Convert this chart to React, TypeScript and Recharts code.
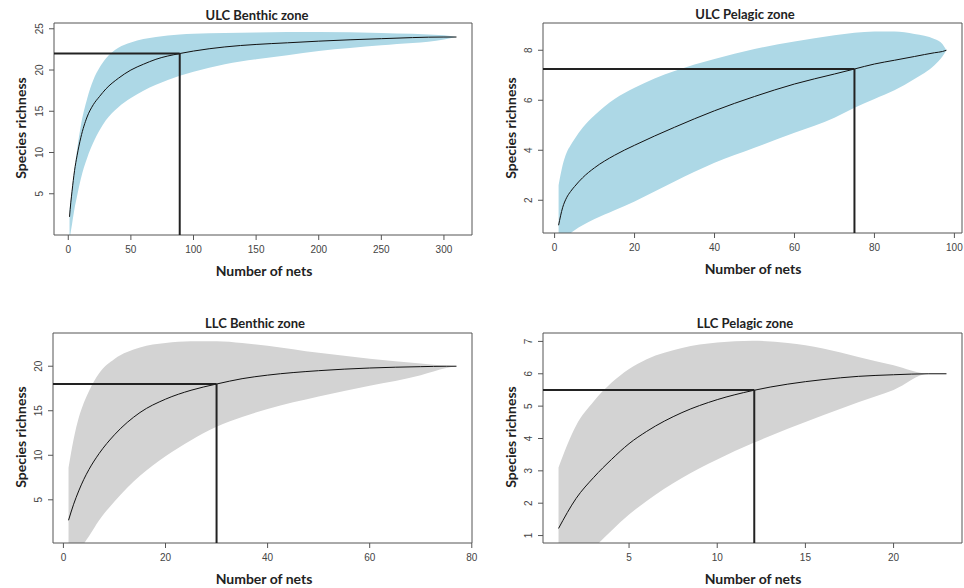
import { ComposedChart, Area, Line, XAxis, YAxis, ReferenceLine, ReferenceArea } from 'recharts';

// ULC Benthic zone
const ulcBenthicNets = [1, 2, 3, 5, 7, 10, 15, 20, 25, 30, 40, 50, 60, 70, 89, 100, 125, 150, 175, 200, 250, 300, 310];
const ulcBenthicMean = [2.2, 3.9, 5.3, 7.8, 9.6, 11.8, 14.3, 15.8, 16.8, 17.7, 19.0, 20.0, 20.7, 21.3, 22, 22.3, 22.8, 23.1, 23.3, 23.5, 23.8, 24, 24];
const ulcBenthicLower = [-0.5, 0.4, 1.3, 3.2, 4.7, 6.8, 9.3, 11.2, 12.7, 13.9, 15.5, 16.6, 17.5, 18.2, 19.3, 19.8, 20.7, 21.3, 21.8, 22.3, 23.0, 23.7, 24];
const ulcBenthicUpper = [3, 4.3, 5.6, 8.1, 10.3, 13.2, 16.5, 18.8, 20.3, 21.4, 22.7, 23.35, 23.75, 24.0, 24.3, 24.4, 24.5, 24.55, 24.6, 24.6, 24.5, 24.2, 24];

// ULC Pelagic zone
const ulcPelagicNets = [1, 2, 3, 4, 5, 7, 10, 15, 20, 25, 30, 40, 50, 60, 70, 75, 80, 85, 90, 95, 97, 98];
const ulcPelagicMean = [1.0, 1.7, 2.1, 2.35, 2.55, 2.9, 3.3, 3.8, 4.2, 4.57, 4.92, 5.58, 6.15, 6.65, 7.05, 7.25, 7.45, 7.6, 7.75, 7.9, 7.95, 8.0];
const ulcPelagicLower = [0.2, 0.35, 0.5, 0.68, 0.8, 1.0, 1.25, 1.6, 1.95, 2.35, 2.75, 3.5, 4.1, 4.7, 5.3, 5.7, 6.05, 6.4, 6.85, 7.4, 7.75, 8.0];
const ulcPelagicUpper = [2.6, 3.4, 3.9, 4.2, 4.45, 4.9, 5.4, 6.05, 6.5, 6.87, 7.17, 7.65, 8.05, 8.35, 8.6, 8.7, 8.75, 8.75, 8.65, 8.45, 8.25, 8.0];

// LLC Benthic zone
const llcBenthicNets = [1, 2, 3, 4, 5, 7, 10, 15, 20, 25, 30, 35, 40, 50, 60, 70, 75, 77];
const llcBenthicMean = [2.7, 4.5, 6.0, 7.3, 8.4, 10.2, 12.3, 14.8, 16.3, 17.3, 18.0, 18.6, 19.0, 19.5, 19.8, 19.95, 20, 20];
const llcBenthicLower = [-3, -2, -1, 0.05, 0.9, 2.7, 4.8, 7.7, 9.9, 11.7, 13.2, 14.3, 15.2, 16.6, 17.8, 19.0, 19.8, 20];
const llcBenthicUpper = [8.6, 11.8, 14.2, 15.9, 17.2, 19.2, 20.8, 22.1, 22.6, 22.8, 22.8, 22.6, 22.3, 21.5, 20.85, 20.3, 20.05, 20];

// LLC Pelagic zone
const llcPelagicNets = [1, 2, 3, 4, 5, 6, 8, 10, 12, 14, 16, 18, 20, 22, 23];
const llcPelagicMean = [1.22, 2.15, 2.8, 3.35, 3.84, 4.22, 4.8, 5.2, 5.48, 5.68, 5.82, 5.92, 5.97, 6, 6];
const llcPelagicLower = [-0.9, -0.1, 0.6, 1.15, 1.65, 2.07, 2.78, 3.35, 3.85, 4.3, 4.72, 5.12, 5.5, 6.0, 6.0];
const llcPelagicUpper = [3.1, 4.4, 5.15, 5.72, 6.15, 6.45, 6.8, 6.97, 7.02, 6.95, 6.78, 6.52, 6.26, 6.0, 6.0];

const BLUE = '#add8e6';
const GREY = '#d3d3d3';

const YTick = (props: any) => {
  const { x, y, payload } = props;
  return (
    <text x={x} y={y} transform={`rotate(-90 ${x} ${y})`} textAnchor="middle"
      fontSize={10} fill="#444" fontFamily="Liberation Sans, Arial, sans-serif">
      {payload.value}
    </text>
  );
};

type PanelProps = {
  title: string;
  left: number; top: number; width: number; height: number;
  marginTop: number; yAxisWidth: number; marginRight: number; xAxisHeight: number;
  nets: number[]; mean: number[]; lower: number[]; upper: number[];
  xDomain: [number, number]; yDomain: [number, number];
  xTicks: number[]; yTicks: number[];
  refX: number; refY: number;
  fill: string;
  titlePos: [number, number]; xTitlePos: [number, number]; yTitlePos: [number, number];
};

const Panel = (p: PanelProps) => {
  const rows = p.nets.map((n, i) => ({ x: n, mean: p.mean[i], band: [p.lower[i], p.upper[i]] }));
  const textBase: any = { position: 'absolute', fontFamily: 'Lato, sans-serif', fontWeight: 700, color: '#222', whiteSpace: 'nowrap' };
  return (
    <>
      <div style={{ position: 'absolute', left: p.left, top: p.top }}>
        <ComposedChart width={p.width} height={p.height} data={rows}
          margin={{ top: p.marginTop, right: p.marginRight, bottom: 0, left: 0 }}>
          <XAxis dataKey="x" type="number" domain={p.xDomain} ticks={p.xTicks} allowDataOverflow interval={0}
            height={p.xAxisHeight} axisLine={false} tickSize={5} tickMargin={6}
            tickLine={{ stroke: '#555' }}
            tick={{ fontSize: 10, fill: '#444', fontFamily: 'Liberation Sans, Arial, sans-serif' }} />
          <YAxis type="number" domain={p.yDomain} ticks={p.yTicks} allowDataOverflow interval={0}
            width={p.yAxisWidth} axisLine={false} tickSize={5} tickMargin={6}
            tickLine={{ stroke: '#555' }} tick={<YTick />} />
          <Area dataKey="band" type="monotone" fill={p.fill} fillOpacity={1} stroke="none" isAnimationActive={false} />
          <Line dataKey="mean" type="monotone" stroke="#111" strokeWidth={1} dot={false} isAnimationActive={false} />
          <ReferenceLine segment={[{ x: p.xDomain[0], y: p.refY }, { x: p.refX, y: p.refY }]}
            stroke="#222" strokeWidth={2} ifOverflow="visible" />
          <ReferenceLine segment={[{ x: p.refX, y: p.yDomain[0] }, { x: p.refX, y: p.refY }]}
            stroke="#222" strokeWidth={2} ifOverflow="visible" />
          <ReferenceArea x1={p.xDomain[0]} x2={p.xDomain[1]} y1={p.yDomain[0]} y2={p.yDomain[1]}
            fill="none" fillOpacity={0} stroke="#555" strokeWidth={1} ifOverflow="visible" />
        </ComposedChart>
      </div>
      <div style={{ ...textBase, fontSize: 13, left: p.titlePos[0], top: p.titlePos[1], transform: 'translate(-50%, -50%)' }}>
        {p.title}
      </div>
      <div style={{ ...textBase, fontSize: 14, left: p.xTitlePos[0], top: p.xTitlePos[1], transform: 'translate(-50%, -50%)' }}>
        Number of nets
      </div>
      <div style={{ ...textBase, fontSize: 14, left: p.yTitlePos[0], top: p.yTitlePos[1], transform: 'translate(-50%, -50%) rotate(-90deg)' }}>
        Species richness
      </div>
    </>
  );
};

export default function App() {
  return (
    <div style={{ position: 'absolute', left: 0, top: 0, width: 964, height: 588, background: '#fff', overflow: 'hidden' }}>
      <Panel title="ULC Benthic zone" left={0} top={0} width={482} height={290}
        marginTop={23} yAxisWidth={54} marginRight={10} xAxisHeight={55}
        nets={ulcBenthicNets} mean={ulcBenthicMean} lower={ulcBenthicLower} upper={ulcBenthicUpper}
        xDomain={[-11.4, 322.4]} yDomain={[0, 25.7]}
        xTicks={[0, 50, 100, 150, 200, 250, 300]} yTicks={[5, 10, 15, 20, 25]}
        refX={89} refY={22} fill={BLUE}
        titlePos={[257, 15]} xTitlePos={[264, 270]} yTitlePos={[20, 128]} />
      <Panel title="ULC Pelagic zone" left={480} top={0} width={484} height={290}
        marginTop={23} yAxisWidth={63} marginRight={2} xAxisHeight={57}
        nets={ulcPelagicNets} mean={ulcPelagicMean} lower={ulcPelagicLower} upper={ulcPelagicUpper}
        xDomain={[-2.9, 101.9]} yDomain={[0.69, 9.09]}
        xTicks={[0, 20, 40, 60, 80, 100]} yTicks={[2, 4, 6, 8]}
        refX={75} refY={7.25} fill={BLUE}
        titlePos={[745, 14]} xTitlePos={[753, 268]} yTitlePos={[510, 128]} />
      <Panel title="LLC Benthic zone" left={0} top={290} width={482} height={298}
        marginTop={43} yAxisWidth={53} marginRight={10} xAxisHeight={45}
        nets={llcBenthicNets} mean={llcBenthicMean} lower={llcBenthicLower} upper={llcBenthicUpper}
        xDomain={[-2.04, 80.04]} yDomain={[0.15, 23.73]}
        xTicks={[0, 20, 40, 60, 80]} yTicks={[5, 10, 15, 20]}
        refX={30} refY={18} fill={GREY}
        titlePos={[255, 323]} xTitlePos={[264, 578]} yTitlePos={[20, 437]} />
      <Panel title="LLC Pelagic zone" left={480} top={290} width={484} height={298}
        marginTop={43} yAxisWidth={63} marginRight={2} xAxisHeight={45}
        nets={llcPelagicNets} mean={llcPelagicMean} lower={llcPelagicLower} upper={llcPelagicUpper}
        xDomain={[0.12, 23.88]} yDomain={[0.77, 7.26]}
        xTicks={[5, 10, 15, 20]} yTicks={[1, 2, 3, 4, 5, 6, 7]}
        refX={12.1} refY={5.5} fill={GREY}
        titlePos={[745, 323]} xTitlePos={[753, 578]} yTitlePos={[510, 437]} />
    </div>
  );
}
